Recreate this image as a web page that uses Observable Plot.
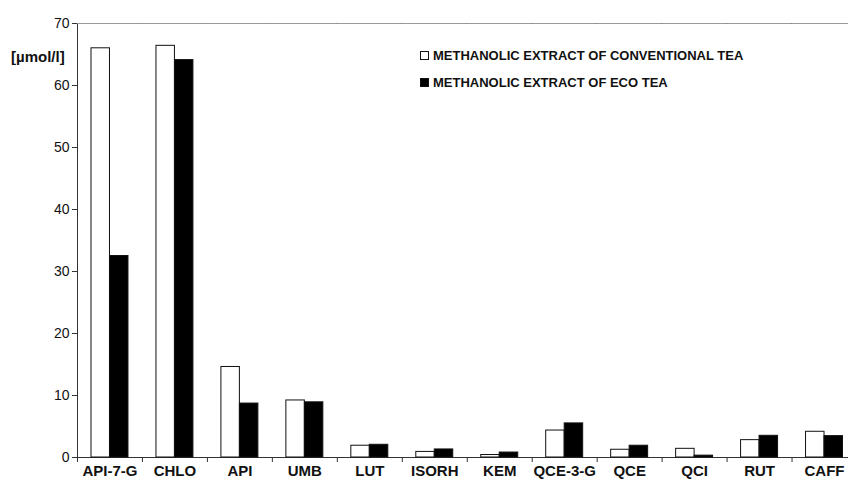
<!DOCTYPE html>
<html>
<head>
<meta charset="utf-8">
<script src="https://cdn.jsdelivr.net/npm/d3@7"></script>
<script src="https://cdn.jsdelivr.net/npm/@observablehq/plot@0.6"></script>
<style>
  body { margin: 0; background: #fff; font-family: "Liberation Sans", Arial, sans-serif; }
  #wrap { position: relative; width: 848px; height: 485px; overflow: hidden; background: #fff; }
  .legend { position: absolute; left: 420px; top: 42px; font-size: 13px; font-weight: bold; color: #111; }
  .legend .row { display: flex; align-items: center; height: 27px; white-space: nowrap; }
  .legend .sw { width: 9px; height: 9px; border: 1px solid #111; box-sizing: border-box; margin-right: 4px; }
  .ylab { position: absolute; left: 11px; top: 48px; font-size: 15px; font-weight: bold; color: #111; }
</style>
</head>
<body>
<div id="wrap"></div>
<script>
const categories = ["API-7-G", "CHLO", "API", "UMB", "LUT", "ISORH", "KEM", "QCE-3-G", "QCE", "QCI", "RUT", "CAFF"];
const seriesNames = ["METHANOLIC EXTRACT OF CONVENTIONAL TEA", "METHANOLIC EXTRACT OF ECO TEA"];
const conventional = [66.0, 66.4, 14.6, 9.2, 1.9, 0.9, 0.4, 4.35, 1.25, 1.4, 2.8, 4.15];
const eco = [32.5, 64.1, 8.7, 8.9, 2.05, 1.3, 0.8, 5.5, 1.9, 0.3, 3.5, 3.45];
const yTicks = [0, 10, 20, 30, 40, 50, 60, 70];
const unitLabel = "[µmol/l]";
const seriesColors = ["#ffffff", "#000000"];

const rows = categories.flatMap((c, i) => [
  {cat: c, series: seriesNames[0], value: conventional[i]},
  {cat: c, series: seriesNames[1], value: eco[i]}
]);
const boundaries = categories.map(c => ({cat: c}));

const W = 848, H = 485, mL = 77, mR = -8.5, mT = 23, mB = 28;
const step = (W - mL - mR) / categories.length;

const chart = Plot.plot({
  width: W, height: H,
  marginLeft: mL, marginRight: mR, marginTop: mT, marginBottom: mB,
  style: {fontFamily: "'Liberation Sans', Arial, sans-serif", background: "white", overflow: "hidden", color: "#111"},
  fx: {domain: categories, padding: 0, round: false, axis: null, label: null},
  x: {domain: seriesNames, paddingInner: 0, paddingOuter: 0.757, round: false, axis: null},
  y: {domain: [0, 70], axis: null},
  color: {domain: seriesNames, range: seriesColors},
  marks: [
    Plot.frame({facet: "super", stroke: "#333"}),
    Plot.ruleY([70], {stroke: "#9a9a9a"}),
    Plot.barY(rows, {fx: "cat", x: "series", y: "value", fill: "series", stroke: "#111", strokeWidth: 1}),
    Plot.ruleX(boundaries, {fx: "cat", x: null, y1: 0, y2: 0, insetBottom: -5, dx: -step / 2, stroke: "#333"}),
    Plot.axisFx({anchor: "bottom", tickSize: 0, tickPadding: 8, fontSize: 15, fontWeight: "bold", label: null}),
    Plot.axisY({ticks: yTicks, tickSize: 5, tickPadding: 3, fontSize: 14, label: null, stroke: "#333"})
  ]
});

const wrap = document.getElementById("wrap");
wrap.appendChild(chart);

const ylab = document.createElement("div");
ylab.className = "ylab";
ylab.textContent = unitLabel;
wrap.appendChild(ylab);

const legend = document.createElement("div");
legend.className = "legend";
seriesNames.forEach((s, i) => {
  const row = document.createElement("div");
  row.className = "row";
  const sw = document.createElement("span");
  sw.className = "sw";
  sw.style.background = seriesColors[i];
  const t = document.createElement("span");
  t.textContent = s;
  row.appendChild(sw);
  row.appendChild(t);
  legend.appendChild(row);
});
wrap.appendChild(legend);
</script>
</body>
</html>
